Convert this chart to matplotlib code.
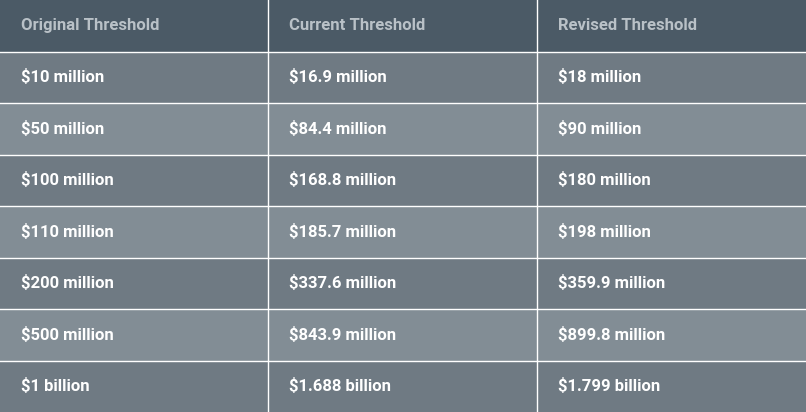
import matplotlib
matplotlib.use("Agg")
import matplotlib.pyplot as plt
from matplotlib.patches import Rectangle

headers = ["Original Threshold", "Current Threshold", "Revised Threshold"]
original = ["$10 million", "$50 million", "$100 million", "$110 million",
            "$200 million", "$500 million", "$1 billion"]
current = ["$16.9 million", "$84.4 million", "$168.8 million", "$185.7 million",
           "$337.6 million", "$843.9 million", "$1.688 billion"]
revised = ["$18 million", "$90 million", "$180 million", "$198 million",
           "$359.9 million", "$899.8 million", "$1.799 billion"]

W, H = 806, 412
col_x = [0, 268, 537, W]
row_h = H / 8

fig = plt.figure(figsize=(W / 100, H / 100), dpi=100)
ax = fig.add_axes([0, 0, 1, 1])
ax.set_xlim(0, W)
ax.set_ylim(H, 0)
ax.axis("off")

ax.add_patch(Rectangle((0, 0), W, row_h, color="#4b5a66", lw=0))
for c, h in enumerate(headers):
    ax.text(col_x[c] + 21, row_h / 2, h, color="#b9c1c7", fontsize=12,
            fontweight="bold", va="center", ha="left", family="Roboto")

columns = [original, current, revised]
for r in range(len(original)):
    y0 = row_h * (r + 1)
    ax.add_patch(Rectangle((0, y0), W, row_h,
                           color="#6f7a83" if r % 2 == 0 else "#828d95", lw=0))
    for c, col in enumerate(columns):
        ax.text(col_x[c] + 21, y0 + row_h / 2, col[r], color="white",
                fontsize=12, fontweight="bold", va="center", ha="left",
                family="Roboto")
    ax.plot([0, W], [y0, y0], color="white", lw=1)

for x in col_x[1:-1]:
    ax.plot([x, x], [0, H], color="white", lw=1)

fig.savefig("out.png", dpi=100)
